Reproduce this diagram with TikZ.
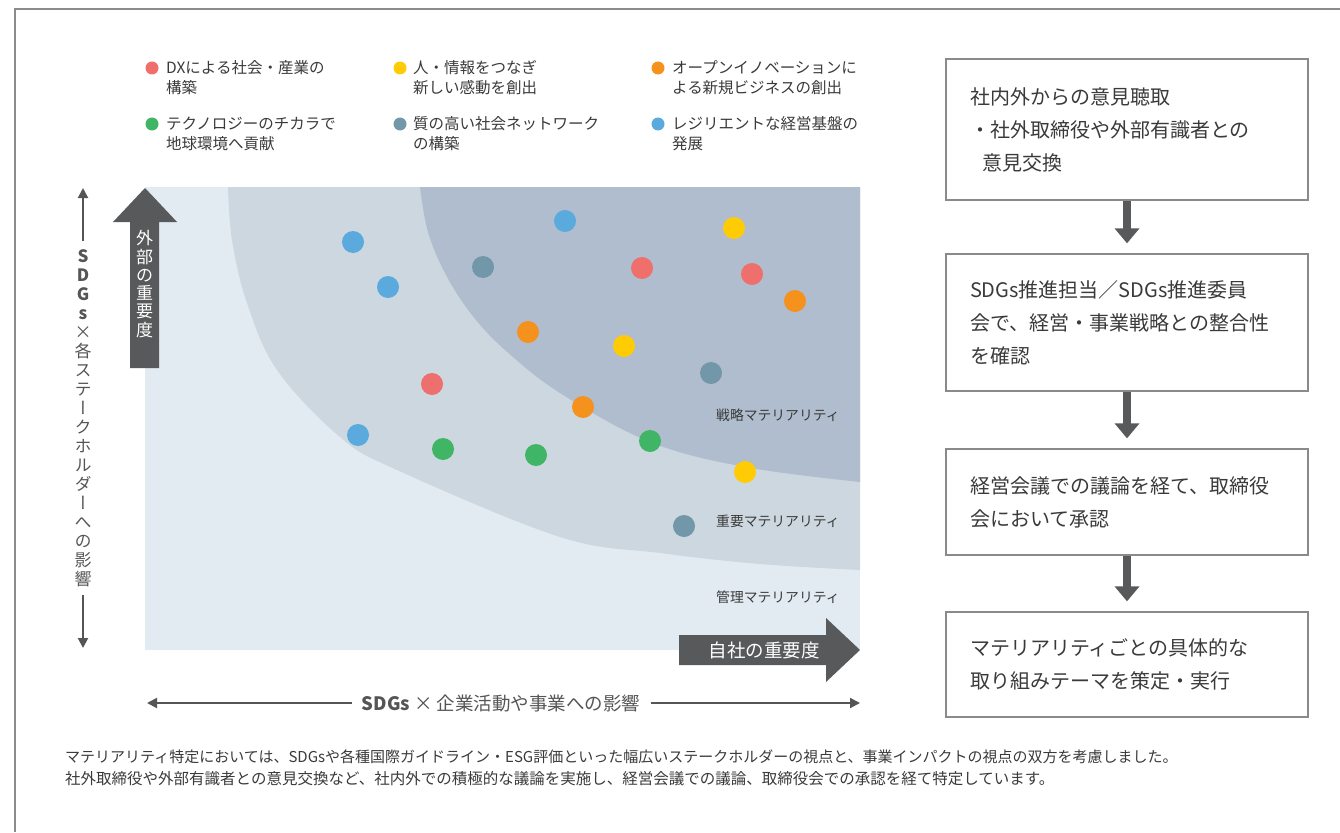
\documentclass[tikz,border=0pt]{standalone}
\usepackage{fontspec}
\setmainfont{Noto Sans CJK JP}
\newfontfamily\vjp[RawFeature=+vert]{Noto Sans CJK JP}
\usetikzlibrary{arrows.meta}
\definecolor{bglight}{HTML}{E2EBF1}
\definecolor{bgmid}{HTML}{CCD7DF}
\definecolor{bgdark}{HTML}{AFBDCE}
\definecolor{arrowgray}{HTML}{58595B}
\definecolor{txt}{HTML}{3A3A3A}
\definecolor{axisgray}{HTML}{555555}
\definecolor{boxgray}{HTML}{8A8A8A}
\definecolor{framegray}{HTML}{8C8C8C}
\definecolor{cred}{HTML}{EF6F6C}
\definecolor{cyellow}{HTML}{FFCB05}
\definecolor{corange}{HTML}{F5921E}
\definecolor{cgreen}{HTML}{41B566}
\definecolor{cgrey}{HTML}{7197A9}
\definecolor{cblue}{HTML}{5AAADE}
\begin{document}
\begin{tikzpicture}[x=1pt,y=-1pt,
  dot/.style={circle,fill=#1,minimum size=22pt,inner sep=0pt},
  ldot/.style={circle,fill=#1,minimum size=13pt,inner sep=0pt},
  legend/.style={anchor=west,align=left,inner sep=0pt,text=txt,font=\fontsize{15.5}{20}\selectfont},
  matlabel/.style={anchor=west,inner sep=0pt,text=txt,font=\fontsize{13.8}{16}\selectfont},
  blockarrow/.style={fill=arrowgray},
  fbox/.style={draw=boxgray,line width=1.3pt,minimum width=362pt,text width=314pt,inner xsep=24pt,align=left,text=txt,font=\fontsize{20}{33}\selectfont},
  flowarr/.style={draw=arrowgray,line width=8pt,-{Triangle[width=24pt,length=15pt]},shorten >=10pt},
  axisline/.style={draw=axisgray,line width=2pt,-{Triangle[width=10pt,length=10pt]}},
  axistext/.style={text=axisgray,inner sep=0pt}
]
\useasboundingbox (0,0) rectangle (1340,832);
% frame
\draw[framegray,line width=1.5pt] (15,832) -- (15,9) -- (1340,9);

% chart background
\fill[bglight] (145,187) rectangle (860,650);
\fill[bgmid] plot[smooth,tension=0.6] coordinates {(228,187) (232,240) (247,303) (277,370) (340,437) (397,470) (560,537) (660,553) (760,564) (860,570)} -- (860,187) -- cycle;
\fill[bgdark] plot[smooth,tension=0.6] coordinates {(420,187) (428,232) (446,275) (472,315) (505,350) (560,393) (650,442) (745,467) (860,482)} -- (860,187) -- cycle;

% materiality labels
\node[matlabel] (m1) at (716,415) {戦略マテリアリティ};
\node[matlabel] (m2) at (716,521) {重要マテリアリティ};
\node[matlabel] (m3) at (716,597) {管理マテリアリティ};

% dots
\node[dot=cblue] (d1) at (353,242) {};
\node[dot=cblue] (d2) at (388,287) {};
\node[dot=cblue] (d3) at (565,221) {};
\node[dot=cblue] (d4) at (358,435) {};
\node[dot=cgrey] (d5) at (483,267) {};
\node[dot=cgrey] (d6) at (711,373) {};
\node[dot=cgrey] (d7) at (684,526) {};
\node[dot=cred] (d8) at (642,268) {};
\node[dot=cred] (d9) at (752,274) {};
\node[dot=cred] (d10) at (432,384) {};
\node[dot=cyellow] (d11) at (734,228) {};
\node[dot=cyellow] (d12) at (624,346) {};
\node[dot=cyellow] (d13) at (745,472) {};
\node[dot=corange] (d14) at (795,301) {};
\node[dot=corange] (d15) at (528,332) {};
\node[dot=corange] (d16) at (583,407) {};
\node[dot=cgreen] (d17) at (443,449) {};
\node[dot=cgreen] (d18) at (536,455) {};
\node[dot=cgreen] (d19) at (650,441) {};

% block arrows
\fill[blockarrow] (130,368) -- (130,222) -- (113,222) -- (145,188) -- (177,222) -- (159,222) -- (159,368) -- cycle;
\node[text=white,align=center,inner sep=0pt,font=\fontsize{17}{18.3}\selectfont] (vtext) at (144.5,284) {外\\部\\の\\重\\要\\度};
\fill[blockarrow] (679,635) -- (826,635) -- (826,618) -- (860,650) -- (826,682) -- (826,665) -- (679,665) -- cycle;
\node[text=white,inner sep=0pt,font=\fontsize{18.5}{20}\selectfont] (htext) at (764,650) {自社の重要度};

% left axis
\coordinate (ltop) at (83,188);
\coordinate (lbot) at (83,648);
\node[axistext,align=center,inner ysep=8pt,font=\vjp\fontsize{17}{19}\selectfont] (ltext) at (83,418)
  {\textbf{S}\\\textbf{D}\\\textbf{G}\\\textbf{s}\\×\\各\\ス\\テ\\ー\\ク\\ホ\\ル\\ダ\\ー\\へ\\の\\影\\響};
\draw[axisline] (ltext.north) -- (ltop);
\draw[axisline] (ltext.south) -- (lbot);

% bottom axis
\coordinate (bleft) at (147,703);
\coordinate (bright) at (860,703);
\node[axistext,inner xsep=10pt,font=\fontsize{18.5}{20}\selectfont] (btext) at (501,703) {\textbf{SDGs} × 企業活動や事業への影響};
\draw[axisline] (btext.west) -- (bleft);
\draw[axisline] (btext.east) -- (bright);

% legend
\node[ldot=cred] (l1) at (152,68) {};
\node[legend] (lt1) at (166,78) {DXによる社会・産業の\\構築};
\node[ldot=cyellow] (l2) at (400,68) {};
\node[legend] (lt2) at (413,78) {人・情報をつなぎ\\新しい感動を創出};
\node[ldot=corange] (l3) at (658,68) {};
\node[legend] (lt3) at (672,78) {オープンイノベーションに\\よる新規ビジネスの創出};
\node[ldot=cgreen] (l4) at (152,124) {};
\node[legend] (lt4) at (166,134) {テクノロジーのチカラで\\地球環境へ貢献};
\node[ldot=cgrey] (l5) at (400,124) {};
\node[legend] (lt5) at (413,134) {質の高い社会ネットワーク\\の構築};
\node[ldot=cblue] (l6) at (658,124) {};
\node[legend] (lt6) at (672,134) {レジリエントな経営基盤の\\発展};

% flow boxes
\node[fbox,minimum height=141pt] (b1) at (1127,129.5) {社内外からの意見聴取\\・社外取締役や外部有識者との\\\hspace*{12pt}意見交換};
\node[fbox,minimum height=137pt] (b2) at (1127,322.5) {SDGs推進担当／SDGs推進委員\\会で、経営・事業戦略との整合性\\を確認};
\node[fbox,minimum height=106pt] (b3) at (1127,502) {経営会議での議論を経て、取締役\\会において承認};
\node[fbox,minimum height=105pt] (b4) at (1127,664.5) {マテリアリティごとの具体的な\\取り組みテーマを策定・実行};
\draw[flowarr] (b1) -- (b2);
\draw[flowarr] (b2) -- (b3);
\draw[flowarr] (b3) -- (b4);

% note
\node[anchor=west,align=left,inner sep=0pt,text=txt,font=\fontsize{15}{22}\selectfont] (note) at (65,768)
 {マテリアリティ特定においては、SDGsや各種国際ガイドライン・ESG評価といった幅広いステークホルダーの視点と、事業インパクトの視点の双方を考慮しました。\\{\fontsize{15.5}{22}\selectfont 社外取締役や外部有識者との意見交換など、社内外での積極的な議論を実施し、経営会議での議論、取締役会での承認を経て特定しています。}};
\end{tikzpicture}
\end{document}
